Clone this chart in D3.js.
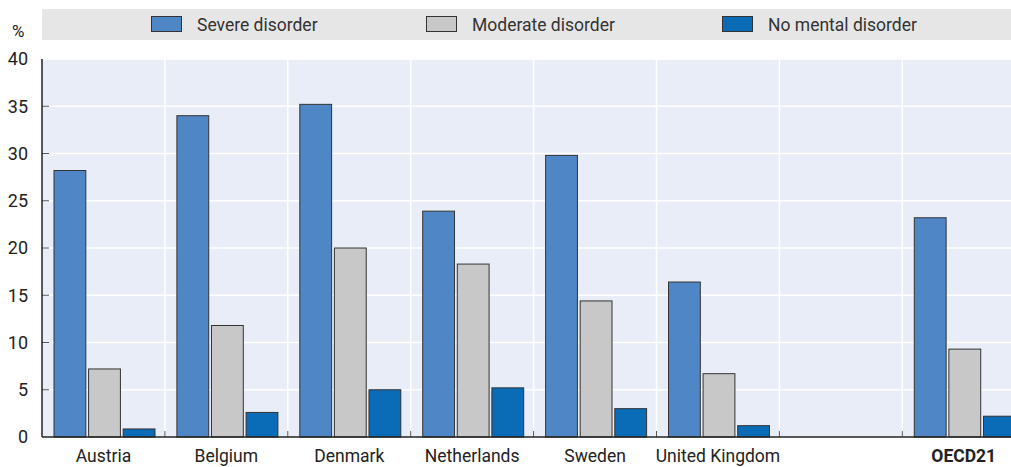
<!DOCTYPE html>
<html><head><meta charset="utf-8">
<script src="https://cdn.jsdelivr.net/npm/d3@7"></script>
<style>
html,body{margin:0;padding:0;background:#fff;overflow:hidden;}
text{font-family:"Liberation Sans Narrow","Arial Narrow","Roboto",sans-serif;}
</style></head>
<body>
<svg id="c" width="1011" height="467"></svg>
<script>
const categories = ["Austria","Belgium","Denmark","Netherlands","Sweden","United Kingdom","","OECD21"];
const seriesNames = ["Severe disorder","Moderate disorder","No mental disorder"];
const severe   = [28.2, 34.0, 35.2, 23.9, 29.8, 16.4, null, 23.2];
const moderate = [7.2, 11.8, 20.0, 18.3, 14.4, 6.7, null, 9.3];
const noneDis  = [0.85, 2.6, 5.0, 5.2, 3.0, 1.2, null, 2.2];
const yTicks = [0,5,10,15,20,25,30,35,40];
const colors = ["#4f87c6","#c8c8c8","#0a6cb6"];

(function(){
const series = [severe, moderate, noneDis];
const svg = d3.select("#c");
const pL = 42, pT = 59, pB = 437, bandW = 122.9;
const x = d3.scaleBand().domain(d3.range(categories.length)).range([pL, pL + bandW*categories.length]).padding(0);
const xi = d3.scaleBand().domain(d3.range(3)).range([12, 113]).paddingInner(0.08);
const y = d3.scaleLinear().domain([0,40]).range([pB, pT]);
const FF = '"Liberation Sans Narrow","Arial Narrow","Roboto",sans-serif';

// legend band
svg.append("rect").attr("x", pL).attr("y", 9).attr("width", 1011-pL).attr("height", 31).attr("fill", "#e6e6e6");
const legX = [151, 426, 722];
seriesNames.forEach((n,i)=>{
  svg.append("rect").attr("x", legX[i]+0.5).attr("y", 16.5).attr("width", 30).attr("height", 15)
    .attr("fill", colors[i]).attr("stroke", "#333").attr("stroke-width", 1);
  svg.append("text").attr("x", legX[i]+46).attr("y", 30.5).attr("font-size", 17.5).attr("fill", "#333").text(n);
});

// plot bg
svg.append("rect").attr("x", pL).attr("y", pT).attr("width", 1011-pL).attr("height", pB-pT).attr("fill", "#e9edf7");
// grid
yTicks.forEach(t=>{
  if (t===0) return;
  svg.append("line").attr("x1", pL).attr("x2", 1011).attr("y1", y(t)).attr("y2", y(t)).attr("stroke", "#fff").attr("stroke-width", 1.5);
});
categories.forEach((c,i)=>{
  if (i===0) return;
  svg.append("line").attr("x1", x(i)).attr("x2", x(i)).attr("y1", pT).attr("y2", pB).attr("stroke", "#fff").attr("stroke-width", 1.5);
});

// bars
categories.forEach((c,i)=>{
  series.forEach((s,k)=>{
    const v = s[i];
    if (v==null) return;
    svg.append("rect").attr("x", x(i)+xi(k)).attr("y", y(v)).attr("width", xi.bandwidth()).attr("height", pB - y(v))
      .attr("fill", colors[k]).attr("stroke", "#333").attr("stroke-width", 1);
  });
});

// axes
const yAxis = d3.axisLeft(y).tickValues(yTicks).tickSize(0).tickPadding(14);
const gy = svg.append("g").attr("transform", `translate(${pL},0)`).call(yAxis);
gy.select(".domain").remove();
gy.selectAll("text").attr("font-size", 18).attr("fill", "#222").style("font-family", FF);
yTicks.forEach(t=>{
  if (t===0 || t===40) return;
  svg.append("line").attr("x1", pL).attr("x2", pL+7).attr("y1", y(t)).attr("y2", y(t)).attr("stroke", "#555").attr("stroke-width", 1);
});
categories.forEach((c,i)=>{
  if (i===0) return;
  svg.append("line").attr("x1", x(i)).attr("x2", x(i)).attr("y1", pB).attr("y2", pB-6).attr("stroke", "#555").attr("stroke-width", 1);
});
svg.append("line").attr("x1", pL).attr("x2", pL).attr("y1", pT).attr("y2", pB).attr("stroke", "#222").attr("stroke-width", 1.5);
svg.append("line").attr("x1", pL).attr("x2", 1011).attr("y1", pB).attr("y2", pB).attr("stroke", "#222").attr("stroke-width", 1.5);

const xAxis = d3.axisBottom(x).tickFormat(i=>categories[i]).tickSize(0).tickPadding(13);
const gx = svg.append("g").attr("transform", `translate(0,${pB})`).call(xAxis);
gx.select(".domain").remove();
gx.selectAll("text").attr("font-size", 17.5).attr("fill", "#222")
  .style("font-family", FF)
  .attr("font-weight", i=>categories[i]==="OECD21" ? "bold" : null);

svg.append("text").attr("x", 12).attr("y", 37).attr("font-size", 17).attr("fill", "#222").text("%");
})();
</script>
</body></html>
